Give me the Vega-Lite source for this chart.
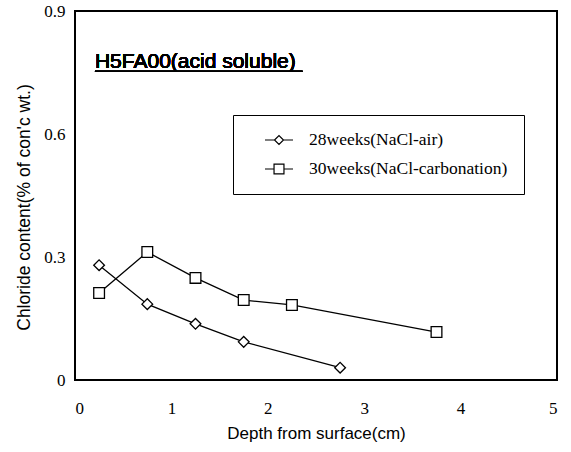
{
  "$schema": "https://vega.github.io/schema/vega-lite/v6.json",
  "width": 482,
  "height": 369,
  "autosize": {"type": "none"},
  "padding": {"left": 75, "top": 11, "right": 14, "bottom": 72},
  "background": "white",
  "config": {
    "view": {"stroke": "black", "strokeWidth": 2},
    "axis": {
      "grid": false,
      "domain": false,
      "ticks": false,
      "labelColor": "black",
      "titleColor": "black"
    }
  },
  "data": {
    "values": [
      {"series": "28weeks(NaCl-air)", "depth": 0.25, "chloride": 0.28},
      {"series": "28weeks(NaCl-air)", "depth": 0.75, "chloride": 0.185},
      {"series": "28weeks(NaCl-air)", "depth": 1.25, "chloride": 0.137},
      {"series": "28weeks(NaCl-air)", "depth": 1.75, "chloride": 0.093},
      {"series": "28weeks(NaCl-air)", "depth": 2.75, "chloride": 0.03},
      {"series": "30weeks(NaCl-carbonation)", "depth": 0.25, "chloride": 0.212},
      {"series": "30weeks(NaCl-carbonation)", "depth": 0.75, "chloride": 0.312},
      {"series": "30weeks(NaCl-carbonation)", "depth": 1.25, "chloride": 0.249},
      {"series": "30weeks(NaCl-carbonation)", "depth": 1.75, "chloride": 0.195},
      {"series": "30weeks(NaCl-carbonation)", "depth": 2.25, "chloride": 0.183},
      {"series": "30weeks(NaCl-carbonation)", "depth": 3.75, "chloride": 0.117}
    ]
  },
  "encoding": {
    "x": {
      "field": "depth",
      "type": "quantitative",
      "scale": {"domain": [0, 5], "nice": false},
      "axis": {
        "values": [0, 1, 2, 3, 4, 5],
        "labelFont": "Liberation Serif",
        "labelFontWeight": "normal",
        "labelFontSize": 17,
        "labelPadding": 20,
        "title": "Depth from surface(cm)",
        "titleFont": "Liberation Sans",
        "titleFontWeight": "normal",
        "titleFontSize": 17,
        "titleY": 53,
        "titleBaseline": "middle"
      }
    },
    "y": {
      "field": "chloride",
      "type": "quantitative",
      "scale": {"domain": [0, 0.9], "nice": false},
      "axis": {
        "values": [0, 0.3, 0.6, 0.9],
        "labelExpr": "datum.value == 0 ? '0' : format(datum.value, '.1f')",
        "labelFont": "Liberation Serif",
        "labelFontWeight": "normal",
        "labelFontSize": 17,
        "labelPadding": 10,
        "title": "Chloride content(% of con'c wt.)",
        "titleFont": "Liberation Sans",
        "titleFontWeight": "normal",
        "titleFontSize": 17.5,
        "titleX": -51,
        "titleY": 196,
        "titleBaseline": "middle",
        "titleAlign": "center",
        "titleAngle": -90
      }
    }
  },
  "resolve": {"scale": {"shape": "independent"}, "legend": {"shape": "independent"}},
  "layer": [
    {
      "mark": {"type": "line", "color": "black", "strokeWidth": 1.3},
      "encoding": {"detail": {"field": "series"}}
    },
    {
      "mark": {"type": "point", "filled": true, "fill": "white", "stroke": "black", "strokeWidth": 1.3, "opacity": 1, "size": 115},
      "encoding": {
        "shape": {
          "field": "series",
          "type": "nominal",
          "scale": {"domain": ["28weeks(NaCl-air)", "30weeks(NaCl-carbonation)"], "range": ["diamond", "square"]},
          "legend": null
        }
      }
    },
    {
      "transform": [{"filter": "false"}],
      "mark": {"type": "point", "filled": false, "color": "black", "strokeWidth": 1.2, "opacity": 1},
      "encoding": {
        "shape": {
          "field": "series",
          "type": "nominal",
          "scale": {
            "domain": ["28weeks(NaCl-air)", "30weeks(NaCl-carbonation)"],
            "range": ["M-1.75,0H-0.56M0.56,0H1.75M-0.56,0L0,-0.56L0.56,0L0,0.56Z", "M-1.75,0H-0.62M0.62,0H1.75M-0.62,-0.62H0.62V0.62H-0.62Z"]
          },
          "legend": {
            "orient": "none",
            "legendX": 158,
            "legendY": 104,
            "title": null,
            "padding": 16,
            "rowPadding": 11,
            "strokeColor": "black",
            "fillColor": "white",
            "symbolSize": 256,
            "symbolOffset": 21,
            "symbolStrokeColor": "black",
            "symbolStrokeWidth": 1.2,
            "labelFont": "Liberation Serif",
            "labelFontSize": 17.5,
            "labelColor": "black",
            "labelOffset": 21,
            "labelLimit": 400
          }
        }
      }
    },
    {
      "mark": {"type": "text", "font": "Liberation Sans", "fontSize": 21, "fontWeight": "normal", "align": "left", "baseline": "alphabetic", "color": "black"},
      "encoding": {
        "x": {"datum": 0.207},
        "y": {"datum": 0.76},
        "text": {"value": "H5FA00(acid soluble)"}
      }
    },
    {
      "mark": {"type": "rule", "color": "black", "strokeWidth": 1.2},
      "encoding": {
        "x": {"datum": 0.207},
        "x2": {"datum": 2.36},
        "y": {"datum": 0.753}
      }
    }
  ]
}
